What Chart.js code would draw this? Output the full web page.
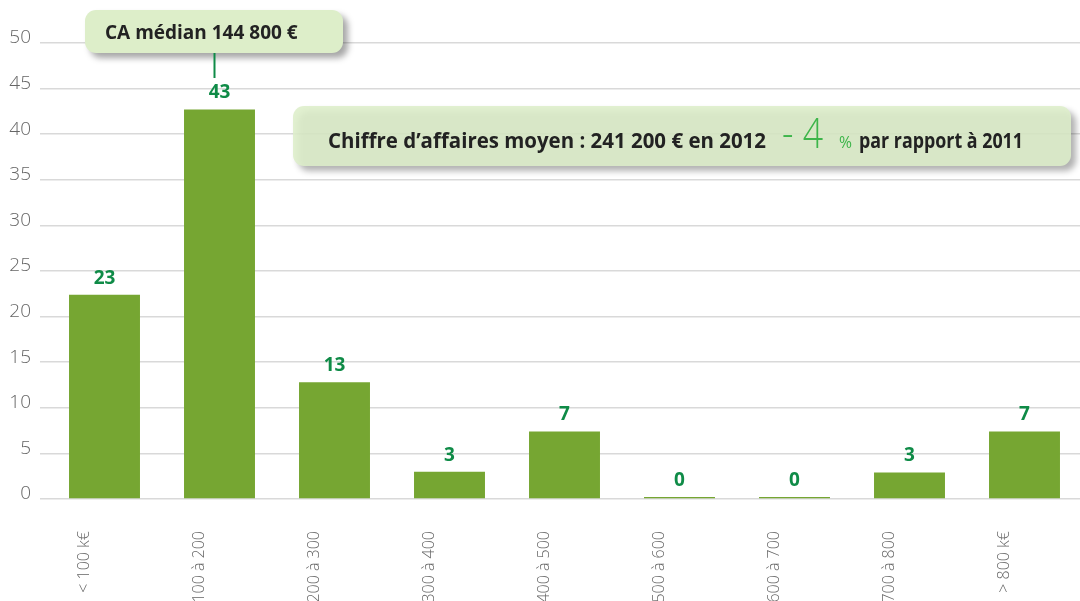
<!DOCTYPE html>
<html lang="fr">
<head>
<meta charset="utf-8">
<title>Chiffre d'affaires</title>
<script src="https://cdn.jsdelivr.net/npm/chart.js@4.4.1/dist/chart.umd.min.js"></script>
<style>
  html, body { margin: 0; padding: 0; background: #fff; overflow: hidden; width: 1080px; height: 601px; }
  #wrap { position: relative; width: 1082px; height: 609px; }
</style>
</head>
<body>
<div id="wrap"><canvas id="caChart"></canvas></div>
<script>
// =============================================================================
// DONNÉES
// =============================================================================
const categories = ["< 100 k€", "100 à 200", "200 à 300", "300 à 400", "400 à 500",
                    "500 à 600", "600 à 700", "700 à 800", "> 800 k€"];
const shares = [22.4, 42.7, 12.8, 3.0, 7.4, 0, 0, 2.9, 7.4];
const shareLabels = ["23", "43", "13", "3", "7", "0", "0", "3", "7"];
const yTicks = [0, 5, 10, 15, 20, 25, 30, 35, 40, 45, 50];

const medianText = "CA médian 144 800 €";
const medianIndex = 1;
const meanText = "Chiffre d’affaires moyen : 241 200 € en 2012";
const meanDelta = "- 4";
const meanDeltaUnit = "%";
const meanCompare = "par rapport à 2011";

// =============================================================================
// STYLES
// =============================================================================
const BAR_GREEN = "#76a632";
const LABEL_GREEN = "#0f8b47";
const DELTA_GREEN = "#3db54a";
const BOX_FILL = "#ddeec9";
const TEXT_DARK = "#222222";
const AXIS_GREY = "#666666";
const FONT = "'Open Sans', 'DejaVu Sans', sans-serif";

// =============================================================================
// HELPERS
// =============================================================================
function roundedBox(ctx, x, y, w, h, r, fill) {
  ctx.save();
  ctx.shadowColor = "rgba(0,0,0,0.35)";
  ctx.shadowBlur = 6;
  ctx.shadowOffsetX = 5;
  ctx.shadowOffsetY = 5;
  ctx.fillStyle = fill;
  ctx.beginPath();
  ctx.roundRect(x, y, w, h, r);
  ctx.fill();
  ctx.restore();
}

// =============================================================================
// PLUGINS
// =============================================================================
const barValuesPlugin = {
  id: "barValues",
  afterDatasetsDraw(chart) {
    const ctx = chart.ctx;
    const meta = chart.getDatasetMeta(0);
    ctx.save();
    ctx.font = `bold 19px ${FONT}`;
    ctx.fillStyle = LABEL_GREEN;
    ctx.textAlign = "center";
    ctx.textBaseline = "bottom";
    meta.data.forEach((bar, i) => {
      const top = Math.min(bar.y, bar.base);
      ctx.fillText(shareLabels[i], bar.x, top - 7);
    });
    ctx.restore();
  }
};

const annotationsPlugin = {
  id: "annotations",
  afterDraw(chart) {
    const ctx = chart.ctx;
    const meta = chart.getDatasetMeta(0);

    // --- CA médian
    roundedBox(ctx, 85, 10, 258, 43, 11, BOX_FILL);
    ctx.save();
    ctx.font = `bold 19px ${FONT}`;
    ctx.fillStyle = TEXT_DARK;
    ctx.textBaseline = "alphabetic";
    ctx.fillText(medianText, 105, 39);

    const mx = meta.data[medianIndex].x - 5;
    ctx.strokeStyle = LABEL_GREEN;
    ctx.lineWidth = 2;
    ctx.beginPath();
    ctx.moveTo(mx, 53);
    ctx.lineTo(mx, 78);
    ctx.stroke();
    ctx.restore();

    // --- CA moyen
    roundedBox(ctx, 293, 106, 778, 60, 11, "rgba(221,238,201,0.88)");
    ctx.save();
    ctx.textBaseline = "alphabetic";
    const baseY = 148;
    let x = 328;
    const parts = [
      { text: meanText, font: `bold 21px ${FONT}`, color: TEXT_DARK, width: 438, gap: 16 },
      { text: meanDelta, font: `300 42px ${FONT}`, color: DELTA_GREEN, width: 41, gap: 16 },
      { text: meanDeltaUnit, font: `17px ${FONT}`, color: DELTA_GREEN, width: 13, gap: 7 },
      { text: meanCompare, font: `bold 21px ${FONT}`, color: TEXT_DARK, width: 164, gap: 0 }
    ];
    parts.forEach(p => {
      ctx.font = p.font;
      ctx.fillStyle = p.color;
      const w = Math.min(ctx.measureText(p.text).width, p.width);
      ctx.fillText(p.text, x, baseY, p.width);
      x += w + p.gap;
    });
    ctx.restore();
  }
};

// =============================================================================
// GRAPHIQUE
// =============================================================================
new Chart(document.getElementById("caChart").getContext("2d"), {
  type: "bar",
  data: {
    labels: categories,
    datasets: [{
      data: shares,
      backgroundColor: BAR_GREEN,
      borderWidth: 0,
      barPercentage: 0.617,
      categoryPercentage: 1,
      minBarLength: 2
    }]
  },
  options: {
    responsive: true,
    maintainAspectRatio: false,
    devicePixelRatio: 1,
    animation: false,
    layout: { padding: { top: 43, left: 0, right: 0, bottom: 0 } },
    plugins: {
      legend: { display: false },
      tooltip: { enabled: false }
    },
    scales: {
      x: {
        grid: { display: false },
        border: { display: false },
        ticks: {
          autoSkip: false,
          minRotation: 90,
          maxRotation: 90,
          padding: 24,
          labelOffset: -20,
          color: AXIS_GREY,
          font: { family: FONT, size: 16, weight: 300 }
        },
        afterFit(scale) { scale.height = 110; }
      },
      y: {
        min: 0,
        max: 50,
        border: { display: false },
        grid: { color: "#d9d9d9", lineWidth: 1.5, tickLength: 7 },
        ticks: {
          padding: 9,
          labelOffset: -5,
          color: AXIS_GREY,
          font: { family: FONT, size: 19, weight: 300 }
        },
        afterBuildTicks(scale) { scale.ticks = yTicks.map(v => ({ value: v })); },
        afterFit(scale) { scale.width = 47; }
      }
    }
  },
  plugins: [barValuesPlugin, annotationsPlugin]
});
</script>
</body>
</html>
